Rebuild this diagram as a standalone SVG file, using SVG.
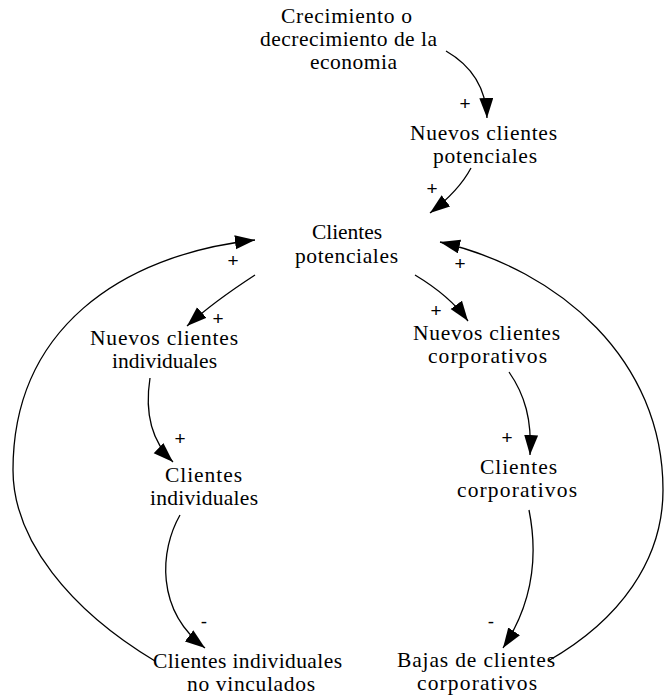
<svg xmlns="http://www.w3.org/2000/svg" width="665" height="696" viewBox="0 0 665 696">
<style>
.n{font-family:"Liberation Serif","Times New Roman",serif;font-size:21.5px;fill:#000;text-anchor:middle}
.s{font-family:"Liberation Sans",Arial,sans-serif;font-size:19px;fill:#000;text-anchor:middle}
.e{fill:none;stroke:#000;stroke-width:1.3}
</style>
<defs>
<marker id="ah" markerUnits="userSpaceOnUse" markerWidth="21" markerHeight="15" refX="20" refY="7" orient="auto">
<path d="M0,0 L20,7 L0,14 z" fill="#000"/>
</marker>
</defs>
<rect width="665" height="696" fill="#fff"/>
<g id="edges">
<path class="e" marker-end="url(#ah)" d="M446,51 C472,66 486,88 487,118"/>
<path class="e" marker-end="url(#ah)" d="M471,168 C462,185 447,200 430,213"/>
<path class="e" marker-end="url(#ah)" d="M255,275 C235,288 210,305 187,326"/>
<path class="e" marker-end="url(#ah)" d="M415,275 C435,287 455,303 468,321"/>
<path class="e" marker-end="url(#ah)" d="M155,661 C70,610 13,540 13,470 C13,330 120,255 255,240"/>
<path class="e" marker-end="url(#ah)" d="M548,661 C620,620 663,560 663,490 C663,360 560,270 440,242"/>
<path class="e" marker-end="url(#ah)" d="M150,378 C145,410 150,440 173,462"/>
<path class="e" marker-end="url(#ah)" d="M509,372 C525,395 532,420 530,455"/>
<path class="e" marker-end="url(#ah)" d="M180,515 C160,550 155,610 205,648"/>
<path class="e" marker-end="url(#ah)" d="M529,510 C537,550 535,600 503,648"/>
<text class="s" x="465" y="110">+</text>
<text class="s" x="432" y="195">+</text>
<text class="s" x="218" y="325">+</text>
<text class="s" x="436" y="317">+</text>
<text class="s" x="233" y="267">+</text>
<text class="s" x="460" y="270">+</text>
<text class="s" x="180" y="445">+</text>
<text class="s" x="507" y="444">+</text>
<text class="s" x="204" y="628">-</text>
<text class="s" x="491" y="628">-</text>
</g>
<g id="crecimiento">
<text class="n" x="346.5" y="23" textLength="131" lengthAdjust="spacing">Crecimiento o</text>
<text class="n" x="348.5" y="46" textLength="177" lengthAdjust="spacing">decrecimiento de la</text>
<text class="n" x="353.5" y="69" textLength="87" lengthAdjust="spacing">economia</text>
</g>
<g id="nuevos_potenciales">
<text class="n" x="483.5" y="140" textLength="147" lengthAdjust="spacing">Nuevos clientes</text>
<text class="n" x="485" y="163" textLength="104" lengthAdjust="spacing">potenciales</text>
</g>
<g id="clientes_potenciales">
<text class="n" x="347" y="239" textLength="70" lengthAdjust="spacing">Clientes</text>
<text class="n" x="346.5" y="263" textLength="103" lengthAdjust="spacing">potenciales</text>
</g>
<g id="nuevos_individuales">
<text class="n" x="164" y="345" textLength="148" lengthAdjust="spacing">Nuevos clientes</text>
<text class="n" x="164.5" y="368" textLength="105" lengthAdjust="spacing">individuales</text>
</g>
<g id="nuevos_corporativos">
<text class="n" x="486.5" y="340" textLength="147" lengthAdjust="spacing">Nuevos clientes</text>
<text class="n" x="487.5" y="363" textLength="119" lengthAdjust="spacing">corporativos</text>
</g>
<g id="clientes_individuales">
<text class="n" x="203.5" y="482" textLength="77" lengthAdjust="spacing">Clientes</text>
<text class="n" x="204" y="505" textLength="108" lengthAdjust="spacing">individuales</text>
</g>
<g id="clientes_corporativos">
<text class="n" x="518.5" y="474" textLength="77" lengthAdjust="spacing">Clientes</text>
<text class="n" x="517" y="497" textLength="120" lengthAdjust="spacing">corporativos</text>
</g>
<g id="no_vinculados">
<text class="n" x="247.5" y="668" textLength="189" lengthAdjust="spacing">Clientes individuales</text>
<text class="n" x="251" y="691" textLength="128" lengthAdjust="spacing">no vinculados</text>
</g>
<g id="bajas">
<text class="n" x="476" y="667" textLength="158" lengthAdjust="spacing">Bajas de clientes</text>
<text class="n" x="477" y="690" textLength="120" lengthAdjust="spacing">corporativos</text>
</g>
</svg>
